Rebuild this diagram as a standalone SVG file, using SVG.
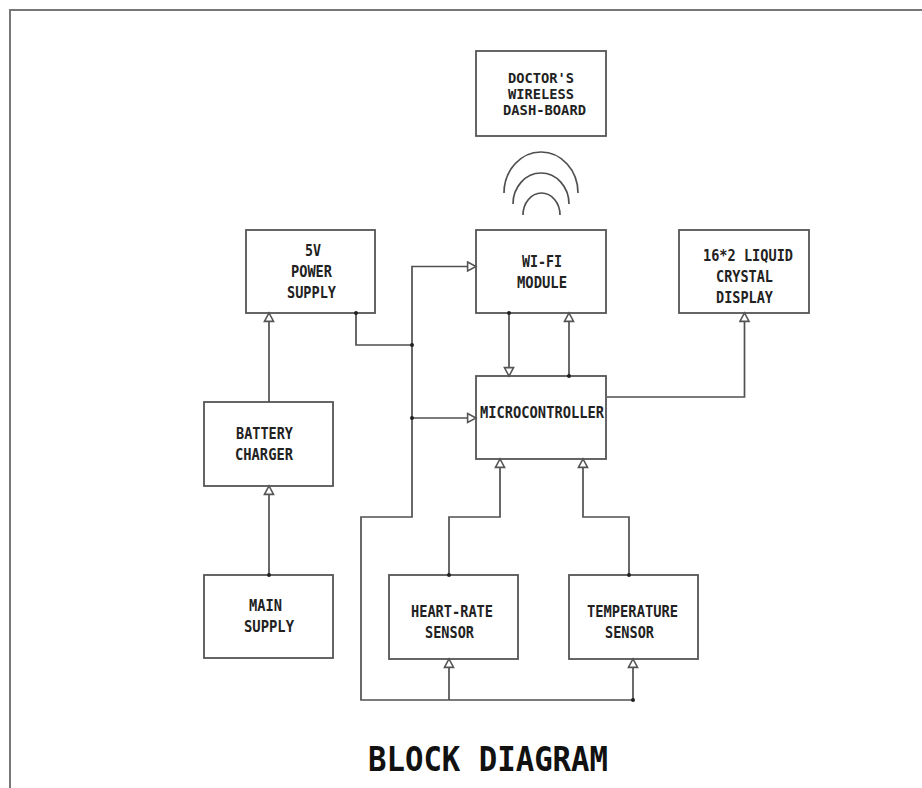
<svg xmlns="http://www.w3.org/2000/svg" width="922" height="788" viewBox="0 0 922 788">
<style>
.b{fill:#fff;stroke:#555;stroke-width:1.8}
.c{fill:none;stroke:#505050;stroke-width:1.7}
.f{fill:none;stroke:#777;stroke-width:2}
.d{fill:#222}
text{font-family:"DejaVu Sans Mono","Liberation Mono",monospace;font-weight:700;font-size:15px;fill:#222}
#n-doctor text{font-size:13.5px}
.t{font-size:34px;fill:#111}
</style>
<defs>
<marker id="a" markerUnits="userSpaceOnUse" markerWidth="12" markerHeight="12" refX="8" refY="5" orient="auto" viewBox="0 0 10 10"><path d="M1 1.2L8 5L1 8.8Z" fill="#fff" stroke="#555" stroke-width="1.3"/></marker>
</defs>
<rect width="922" height="788" fill="#fff"/>
<path id="frame" class="f" d="M922 10H10V788"/>
<g id="n-doctor"><rect class="b" x="476" y="51" width="130" height="85"/>
<text x="508" y="83" textLength="66" lengthAdjust="spacingAndGlyphs">DOCTOR'S</text>
<text x="508" y="99" textLength="66" lengthAdjust="spacingAndGlyphs">WIRELESS</text>
<text x="503" y="115" textLength="83" lengthAdjust="spacingAndGlyphs">DASH-BOARD</text></g>
<g id="n-wifi"><rect class="b" x="476" y="230" width="130" height="83"/>
<text x="522" y="267" textLength="40" lengthAdjust="spacingAndGlyphs">WI-FI</text>
<text x="517" y="288" textLength="50" lengthAdjust="spacingAndGlyphs">MODULE</text></g>
<g id="n-power"><rect class="b" x="246" y="230" width="129" height="83"/>
<text x="305" y="256" textLength="16" lengthAdjust="spacingAndGlyphs">5V</text>
<text x="291" y="277" textLength="41" lengthAdjust="spacingAndGlyphs">POWER</text>
<text x="287" y="298" textLength="49" lengthAdjust="spacingAndGlyphs">SUPPLY</text></g>
<g id="n-lcd"><rect class="b" x="679" y="230" width="130" height="83"/>
<text x="703" y="261" textLength="90" lengthAdjust="spacingAndGlyphs">16*2 LIQUID</text>
<text x="716" y="282" textLength="57" lengthAdjust="spacingAndGlyphs">CRYSTAL</text>
<text x="716" y="303" textLength="57" lengthAdjust="spacingAndGlyphs">DISPLAY</text></g>
<g id="n-battery"><rect class="b" x="204" y="402" width="129" height="84"/>
<text x="236" y="439" textLength="57" lengthAdjust="spacingAndGlyphs">BATTERY</text>
<text x="235" y="460" textLength="58" lengthAdjust="spacingAndGlyphs">CHARGER</text></g>
<g id="n-micro"><rect class="b" x="476" y="376" width="130" height="83"/>
<text x="480" y="418" textLength="124" lengthAdjust="spacingAndGlyphs">MICROCONTROLLER</text></g>
<g id="n-main"><rect class="b" x="204" y="575" width="129" height="83"/>
<text x="249" y="611" textLength="33" lengthAdjust="spacingAndGlyphs">MAIN</text>
<text x="244" y="632" textLength="50" lengthAdjust="spacingAndGlyphs">SUPPLY</text></g>
<g id="n-heart"><rect class="b" x="389" y="575" width="129" height="84"/>
<text x="411" y="617" textLength="82" lengthAdjust="spacingAndGlyphs">HEART-RATE</text>
<text x="425" y="638" textLength="49" lengthAdjust="spacingAndGlyphs">SENSOR</text></g>
<g id="n-temp"><rect class="b" x="569" y="575" width="129" height="84"/>
<text x="587" y="617" textLength="91" lengthAdjust="spacingAndGlyphs">TEMPERATURE</text>
<text x="605" y="638" textLength="49" lengthAdjust="spacingAndGlyphs">SENSOR</text></g>
<g id="arcs">
<path class="c" d="M504 193A37 41 0 0 1 578 193"/>
<path class="c" d="M513 204A28 31 0 0 1 569 204"/>
<path class="c" d="M523 215A18.500 22 0 0 1 560 215"/>
</g>
<g id="connectors">
<path class="c" marker-end="url(#a)" d="M269 402V313"/>
<path class="c" marker-end="url(#a)" d="M269 575V486"/>
<path class="c" d="M356 313V345H412"/>
<path class="c" marker-end="url(#a)" d="M633 700H361V517H412V266.500H476"/>
<path class="c" marker-end="url(#a)" d="M412 418H476"/>
<path class="c" marker-end="url(#a)" d="M449 700V659"/>
<path class="c" marker-end="url(#a)" d="M633 700V659"/>
<path class="c" marker-end="url(#a)" d="M449 575V517H500V459"/>
<path class="c" marker-end="url(#a)" d="M629 575V517H583V459"/>
<path class="c" marker-end="url(#a)" d="M509 313V376"/>
<path class="c" marker-end="url(#a)" d="M569 376V313"/>
<path class="c" marker-end="url(#a)" d="M607 397H744.500V313"/>
<circle class="d" cx="356" cy="313" r="2"/><circle class="d" cx="412" cy="345" r="2"/><circle class="d" cx="412" cy="418" r="2"/>
<circle class="d" cx="269" cy="575" r="2"/><circle class="d" cx="449" cy="575" r="2"/><circle class="d" cx="629" cy="575" r="2"/>
<circle class="d" cx="633" cy="700" r="2"/><circle class="d" cx="509" cy="313" r="2"/><circle class="d" cx="569" cy="376" r="2"/>
</g>
<text class="t" id="title" x="368" y="771" textLength="240" lengthAdjust="spacingAndGlyphs">BLOCK DIAGRAM</text>
</svg>
